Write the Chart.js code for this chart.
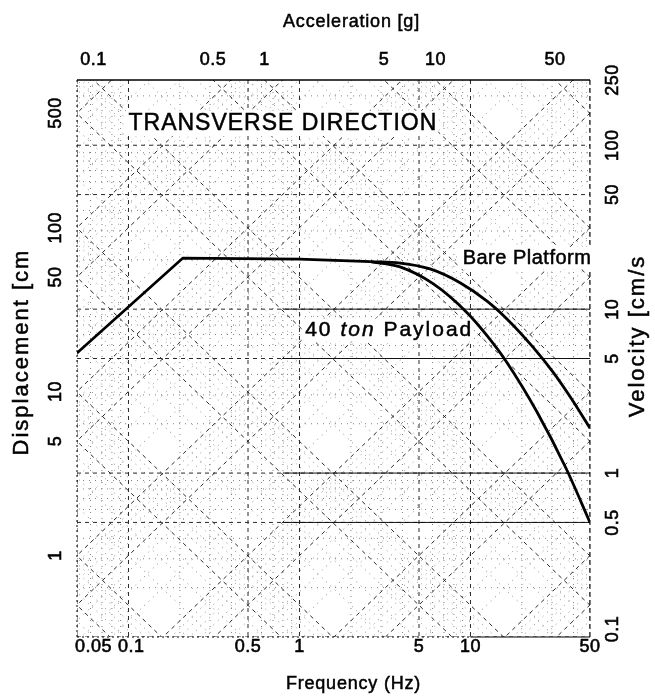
<!DOCTYPE html>
<html>
<head>
<meta charset="utf-8">
<script src="https://cdn.jsdelivr.net/npm/chart.js@4.4.0/dist/chart.umd.min.js"></script>
<style>
  html, body { margin: 0; padding: 0; background: #fff; }
  canvas { display: block; }
</style>
</head>
<body>
<canvas id="shockSpectrum" width="655" height="700"></canvas>
<script>
// tick values on the four sides of the tripartite plot
const freqTicks = [0.05, 0.1, 0.5, 1, 5, 10, 50];          // bottom, Hz
const velocityTicks = [0.1, 0.5, 1, 5, 10, 50, 100, 250];   // right, cm/s
const displacementTicks = [1, 5, 10, 50, 100, 500];         // left, cm
const accelerationTicks = [0.1, 0.5, 1, 5, 10, 50];         // top, g

// shared part of both curves (constant displacement ramp + plateau)
const plateauFreq = [0.05, 0.208, 1.0, 2.6];
const plateauVel = [5.4, 20.5, 20.2, 19.5];

// roll-off of the 40 ton payload curve
const payloadFreq = [2.6, 3.87, 6.04, 9.55, 12.5, 16.4, 24.5, 36.2, 50];
const payloadVel = [19.5, 18.1, 14.3, 9.52, 6.89, 4.70, 2.36, 1.07, 0.5];

// roll-off of the bare platform curve
const bareFreq = [2.6, 3.87, 5.8, 8.69, 12.5, 16.4, 23.2, 30.4, 38.2, 50];
const bareVel = [19.5, 19.1, 17.6, 14.5, 11.2, 8.69, 5.87, 4.13, 2.93, 1.88];

const G = 981; // cm/s^2

function toPoints(xs, ys) {
    return xs.map((f, i) => ({ x: f, y: ys[i] }));
}

// text placed inside the plot, anchored in data coords (left edge, vertical middle)
const notes = [
    { parts: [['TRANSVERSE DIRECTION', false]], f: 0.1, v: 136, size: 23, spacing: 1 },
    { parts: [['Bare Platform', false]], f: 9.0, v: 20.5, size: 20, spacing: 0.5 },
    { parts: [['40 ', false], ['ton', true], [' Payload', false]], f: 1.08, v: 7.45, size: 21, spacing: 2 },
];

const FONT = '"Liberation Sans", Arial, sans-serif';

function decadeValues(kMin, kMax) {
    const out = [];
    for (let k = kMin; k <= kMax; k++) {
        for (let m = 1; m <= 9; m++) {
            out.push({ value: m * Math.pow(10, k), major: (m === 1 || m === 5) });
        }
    }
    return out;
}

function line(ctx, x1, y1, x2, y2) {
    ctx.beginPath();
    ctx.moveTo(x1, y1);
    ctx.lineTo(x2, y2);
    ctx.stroke();
}

// scanned text looks heavy, so fill + a thin stroke
function heavyText(ctx, text, x, y) {
    ctx.fillText(text, x, y);
    ctx.strokeText(text, x, y);
}

function rotatedText(ctx, text, x, y) {
    ctx.save();
    ctx.translate(x, y);
    ctx.rotate(-Math.PI / 2);
    ctx.textAlign = 'center';
    ctx.textBaseline = 'middle';
    heavyText(ctx, text, 0, 0);
    ctx.restore();
}

const tripartitePlugin = {
    id: 'tripartite',
    beforeDatasetsDraw(chart) {
        const { ctx, chartArea: a, scales: { x, y } } = chart;
        const fLo = 0.005, fHi = 500;
        ctx.save();
        ctx.beginPath();
        ctx.rect(a.left, a.top, a.right - a.left, a.bottom - a.top);
        ctx.clip();

        // minor grid first, then the major ones on top
        [false, true].forEach(majorPass => {
            ctx.lineWidth = 1;
            if (majorPass) {
                ctx.strokeStyle = '#2a2a2a';
                ctx.setLineDash([4, 4]);
            } else {
                ctx.strokeStyle = '#808080';
                ctx.setLineDash([1, 5]);
            }
            // displacement lines  V = 2 pi f D
            decadeValues(-5, 3).filter(d => d.major === majorPass).forEach(d => {
                line(ctx, x.getPixelForValue(fLo), y.getPixelForValue(2 * Math.PI * fLo * d.value),
                    x.getPixelForValue(fHi), y.getPixelForValue(2 * Math.PI * fHi * d.value));
            });
            // acceleration lines  V = A g / (2 pi f)
            decadeValues(-6, 3).filter(d => d.major === majorPass).forEach(d => {
                line(ctx, x.getPixelForValue(fLo), y.getPixelForValue(d.value * G / (2 * Math.PI * fLo)),
                    x.getPixelForValue(fHi), y.getPixelForValue(d.value * G / (2 * Math.PI * fHi)));
            });
            // horizontal velocity lines
            decadeValues(-1, 2).filter(d => d.major === majorPass).forEach(d => {
                const py = y.getPixelForValue(d.value);
                line(ctx, a.left, py, a.right, py);
            });
            // vertical frequency lines
            decadeValues(-2, 1).filter(d => d.major === majorPass).forEach(d => {
                const px = x.getPixelForValue(d.value);
                line(ctx, px, a.top, px, a.bottom);
            });
        });

        // stronger velocity lines on the right part
        ctx.setLineDash([]);
        ctx.strokeStyle = '#111';
        [0.5, 1, 5, 10].forEach(v => {
            const py = y.getPixelForValue(v);
            line(ctx, x.getPixelForValue(0.8), py, a.right, py);
        });
        ctx.restore();

        // frame
        ctx.save();
        ctx.strokeStyle = '#000';
        ctx.lineWidth = 1.5;
        line(ctx, a.left, a.top, a.right, a.top);
        ctx.lineWidth = 1;
        ctx.setLineDash([2, 3]);
        line(ctx, a.left, a.top, a.left, a.bottom);
        line(ctx, a.left, a.bottom, x.getPixelForValue(10), a.bottom);
        ctx.setLineDash([5, 3]);
        line(ctx, a.right, a.top, a.right, a.bottom);
        ctx.setLineDash([]);
        line(ctx, x.getPixelForValue(10), a.bottom, a.right, a.bottom);
        ctx.restore();

        // annotations with white knock-out boxes
        ctx.save();
        ctx.textBaseline = 'middle';
        ctx.textAlign = 'left';
        ctx.strokeStyle = '#000';
        ctx.lineWidth = 0.5;
        notes.forEach(n => {
            ctx.letterSpacing = n.spacing + 'px';
            let px = x.getPixelForValue(n.f);
            const py = y.getPixelForValue(n.v);
            const widths = n.parts.map(([t, it]) => {
                ctx.font = (it ? 'italic ' : '') + n.size + 'px ' + FONT;
                return ctx.measureText(t).width;
            });
            const total = widths.reduce((s, w) => s + w, 0);
            ctx.fillStyle = '#fff';
            ctx.fillRect(px - 3, py - n.size * 0.55, total + 4, n.size * 1.1);
            ctx.fillStyle = '#000';
            n.parts.forEach(([t, it], i) => {
                ctx.font = (it ? 'italic ' : '') + n.size + 'px ' + FONT;
                heavyText(ctx, t, px, py);
                px += widths[i];
            });
        });
        ctx.restore();
    },
    afterDraw(chart) {
        const { ctx, chartArea: a, scales: { x, y } } = chart;
        ctx.save();
        ctx.fillStyle = '#000';
        ctx.strokeStyle = '#000';
        ctx.lineWidth = 0.6;
        ctx.letterSpacing = '0.5px';
        ctx.font = '18px ' + FONT;

        // bottom: frequency
        ctx.textBaseline = 'middle';
        let prevRight = -Infinity;
        freqTicks.forEach((f, i) => {
            const label = String(f);
            const w = ctx.measureText(label).width;
            const px = x.getPixelForValue(f);
            let left = i === 0 ? px - 2 : px - w / 2;
            if (left < prevRight + 6) left = prevRight + 6;
            ctx.textAlign = 'left';
            heavyText(ctx, label, left, 647);
            prevRight = left + w;
        });

        // top: acceleration, where each line meets the top edge
        const vTop = y.max;
        ctx.textAlign = 'center';
        accelerationTicks.forEach(A => {
            const f = A * G / (2 * Math.PI * vTop);
            heavyText(ctx, String(A), x.getPixelForValue(f), 60);
        });

        // right: velocity
        velocityTicks.forEach(v => {
            let py = y.getPixelForValue(v);
            py = Math.min(py, a.bottom - 8);
            rotatedText(ctx, String(v), 613, py);
        });

        // left: displacement, where each line meets the left edge
        const fLeft = x.min;
        displacementTicks.forEach(d => {
            const py = y.getPixelForValue(2 * Math.PI * fLeft * d);
            rotatedText(ctx, String(d), 56, py);
        });

        // axis titles
        ctx.font = '18px ' + FONT;
        ctx.letterSpacing = '0.8px';
        ctx.textAlign = 'center';
        ctx.lineWidth = 0.5;
        heavyText(ctx, 'Acceleration [g]', (a.left + a.right) / 2 + 18, 22);
        heavyText(ctx, 'Frequency (Hz)', (a.left + a.right) / 2 + 20, 684);
        ctx.font = '22px ' + FONT;
        ctx.letterSpacing = '2px';
        rotatedText(ctx, 'Displacement [cm', 22, 352);
        rotatedText(ctx, 'Velocity [cm/s', 638, 336);
        ctx.restore();
    }
};

const curveStyle = {
    borderColor: '#000',
    borderWidth: 2.8,
    pointRadius: 0,
    fill: false,
    showLine: true,
};

const ctx = document.getElementById('shockSpectrum').getContext('2d');
new Chart(ctx, {
    type: 'scatter',
    data: {
        datasets: [
            Object.assign({ label: 'Shared', data: toPoints(plateauFreq, plateauVel), tension: 0 }, curveStyle),
            Object.assign({ label: '40 ton Payload', data: toPoints(payloadFreq, payloadVel), cubicInterpolationMode: 'monotone' }, curveStyle),
            Object.assign({ label: 'Bare Platform', data: toPoints(bareFreq, bareVel), cubicInterpolationMode: 'monotone' }, curveStyle),
        ]
    },
    options: {
        responsive: false,
        animation: false,
        layout: { padding: { left: 77, right: 65, top: 80, bottom: 63 } },
        scales: {
            x: { type: 'logarithmic', min: 0.05, max: 50, display: false },
            y: { type: 'logarithmic', min: 0.1, max: 250, display: false },
        },
        plugins: {
            legend: { display: false },
            tooltip: { enabled: false },
        },
    },
    plugins: [tripartitePlugin],
});
</script>
</body>
</html>
